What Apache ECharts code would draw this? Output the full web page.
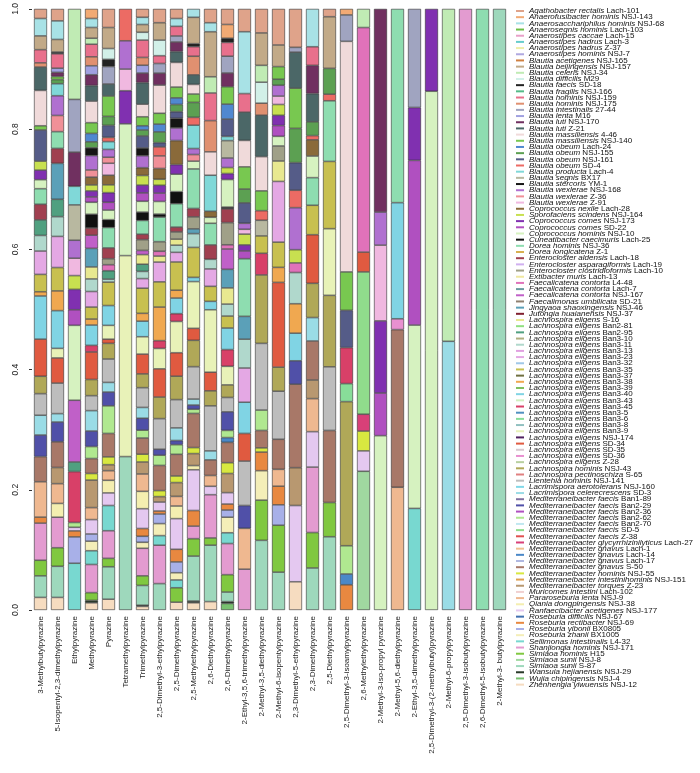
<!DOCTYPE html>
<html>
<head>
<meta charset="utf-8">
<script src="https://cdn.jsdelivr.net/npm/echarts@6/dist/echarts.min.js"></script>
<style>
  html, body { margin: 0; padding: 0; background: #fff; }
  #main { width: 700px; height: 773px; }
</style>
</head>
<body>
<div id="main"></div>
<script>
// pyrazines on the x axis
var pyrazines = [
  '3-Methylbutylpyrazine', '5-Isopentyl-2,3-dimethylpyrazine', 'Ethylpyrazine', 'Methylpyrazine',
  'Pyrazine', 'Tetramethylpyrazine', 'Trimethylpyrazine', '2,5-Dimethyl-3-ethylpyrazine',
  '2,5-Dimethylpyrazine', '2,5-Methylethylpyrazine', '2,6-Diethylpyrazine', '2,6-Dimethylpyrazine',
  '2-Ethyl-3,5,6-trimethylpyrazine', '2-Methyl-3,5-diethylpyrazine', '2-Methyl-6-isopentylpyrazine',
  '2,3-Dimethyl-5-ethylpyrazine', '2,3-Dimethylpyrazine', '2,5-Diethylpyrazine',
  '2,5-Dimethyl-3-isoamylpyrazine', '2,6-Methylethylpyrazine', '2-Methyl-3-iso-propyl pyrazine',
  '2-Methyl-5,6-diethylpyrazine', '2-Ethyl-3,5-dimethylpyrazine', '2,5-Dimethyl-3-(2-methylbutyl)pyrazine',
  '2-Methyl-6-propylpyrazine', '2,5-Dimethyl-3-isobutylpyrazine', '2,6-Dimethyl-5-isobutylpyrazine',
  '2-Methyl-3- butylpyrazine'
];

// species: [italic name, strain]
var species = [
  ['Agathobacter rectalis', 'Lach-101'], ['Anaerofusibacter hominis', 'NSJ-143'],
  ['Anaerosacchariphilus hominis', 'NSJ-68'], ['Anaerosegnis hominis', 'Lach-103'],
  ['Anaerostipes caccae', 'Lach-15'], ['Anaerostipes hadrus', 'Lach-3'], ['Anaerostipes hadrus', 'Z-37'],
  ['Anaerostipes hominis', 'NSJ-7'], ['Blautia acetigenes', 'NSJ-165'], ['Blautia beijingensis', 'NSJ-157'],
  ['Blautia celeris', 'NSJ-34'], ['Blautia difficilis', 'M29'], ['Blautia faecis', 'SD-18'],
  ['Blautia fragilis', 'NSJ-166'], ['Blautia hominis', 'NSJ-159'], ['Blautia hominis', 'NSJ-175'],
  ['Blautia intestinalis', '27-44'], ['Blautia lenta', 'M16'], ['Blautia luti', 'NSJ-170'],
  ['Blautia luti', 'Z-21'], ['Blautia massiliensis', '4-46'], ['Blautia massiliensis', 'NSJ-140'],
  ['Blautia obeum', 'Lach-24'], ['Blautia obeum', 'NSJ-155'], ['Blautia obeum', 'NSJ-161'],
  ['Blautia obeum', 'SD-4'], ['Blautia producta', 'Lach-4'], ['Blautia segnis', 'BX17'],
  ['Blautia stercoris', 'YM-1'], ['Blautia wexlerae', 'NSJ-168'], ['Blautia wexlerae', 'Z-36'],
  ['Blautia wexlerae', 'Z-91'], ['Coprococcus nexile', 'Lach-28'], ['Sporofaciens scindens', 'NSJ-164'],
  ['Coprococcus comes', 'NSJ-173'], ['Coprococcus comes', 'SD-22'], ['Coprococcus hominis', 'NSJ-10'],
  ['Cuneatibacter caecimuris', 'Lach-25'], ['Dorea hominis', 'NSJ-36'], ['Dorea longicatena', 'Z-1'],
  ['Enterocloster aldensis', 'Lach-18'], ['Enterocloster asparagiformis', 'Lach-19'],
  ['Enterocloster clostridioformis', 'Lach-10'], ['Extibacter muris', 'Lach-13'],
  ['Faecalicatena contorta', 'L4-48'], ['Faecalicatena contorta', 'Lach-7'],
  ['Faecalicatena contorta', 'NSJ-167'], ['Faecalimonas umbilicata', 'SD-21'],
  ['Jingyaoa shaoxingensis', 'NSJ-46'], ['Jutongia huaianensis', 'NSJ-37'],
  ['Lachnospira eligens', 'S-16'], ['Lachnospira eligens', 'Ban2-81'], ['Lachnospira eligens', 'Ban2-95'],
  ['Lachnospira eligens', 'Ban3-10'], ['Lachnospira eligens', 'Ban3-11'], ['Lachnospira eligens', 'Ban3-13'],
  ['Lachnospira eligens', 'Ban3-23'], ['Lachnospira eligens', 'Ban3-32'], ['Lachnospira eligens', 'Ban3-35'],
  ['Lachnospira eligens', 'Ban3-37'], ['Lachnospira eligens', 'Ban3-38'], ['Lachnospira eligens', 'Ban3-39'],
  ['Lachnospira eligens', 'Ban3-40'], ['Lachnospira eligens', 'Ban3-43'], ['Lachnospira eligens', 'Ban3-45'],
  ['Lachnospira eligens', 'Ban3-5'], ['Lachnospira eligens', 'Ban3-6'], ['Lachnospira eligens', 'Ban3-8'],
  ['Lachnospira eligens', 'Ban3-9'], ['Lachnospira eligens', 'NSJ-174'], ['Lachnospira eligens', 'SD-34'],
  ['Lachnospira eligens', 'SD-35'], ['Lachnospira eligens', 'SD-36'], ['Lachnospira eligens', 'Z-28'],
  ['Lachnospira hominis', 'NSJ-43'], ['Lachnospira pectinoschiza', 'S-65'], ['Lientehia hominis', 'NSJ-141'],
  ['Lacrimispora aerotolerans', 'NSJ-160'], ['Lacrimispora celerecrescens', 'SD-3'],
  ['Mediterraneibacter faecis', 'Ban1-89'], ['Mediterraneibacter faecis', 'Ban2-29'],
  ['Mediterraneibacter faecis', 'Ban2-36'], ['Mediterraneibacter faecis', 'Ban2-62'],
  ['Mediterraneibacter faecis', 'Ban2-70'], ['Mediterraneibacter faecis', 'SD-5'],
  ['Mediterraneibacter faecis', 'Z-38'], ['Mediterraneibacter glycyrrhizinilyticus', 'Lach-27'],
  ['Mediterraneibacter gnavus', 'Lach-1'], ['Mediterraneibacter gnavus', 'Lach-14'],
  ['Mediterraneibacter gnavus', 'Lach-17'], ['Mediterraneibacter gnavus', 'S-50'],
  ['Mediterraneibacter hominis', 'NSJ-55'], ['Mediterraneibacter intestinihominis', 'NSJ-151'],
  ['Mediterraneibacter torques', 'Z-23'], ['Muricomes intestini', 'Lach-102'],
  ['Pararoseburia lenta', 'NSJ-9'], ['Qiania dongpingensis', 'NSJ-38'],
  ['Ranfaecibacter acetigenes', 'NSJ-177'], ['Roseburia difficilis', 'NSJ-67'],
  ['Roseburia rectibacter', 'NSJ-69'], ['Roseburia yibonii', 'BX0805'], ['Roseburia zhanii', 'BX1005'],
  ['Sellimonas intestinalis', 'L4-32'], ['Shanjiongia hominis', 'NSJ-171'], ['Simiaoa hominis', 'H15'],
  ['Simiaoa sunii', 'NSJ-8'], ['Simiaoa sunii', 'S-87'], ['Wansuia hejianensis', 'NSJ-29'],
  ['Wujia chipingensis', 'NSJ-4'], ['Zhenhengia yiwuensis', 'NSJ-12']
];

var speciesColors = [
  '#DFA38A', '#F2AA74', '#A8E2E6', '#6DBE45', '#E8A0C8', '#66CCCC', '#EEEEA8', '#B0A8E0', '#D08040', '#C2AA88',
  '#C0EBB4', '#D2F0E8', '#222222', '#55BB88', '#E8708C', '#E09070', '#A0A4C0', '#A0A0E0', '#703060', '#4B6767',
  '#F0DADA', '#78C850', '#5088D0', '#5CA052', '#555C88', '#EC6B64', '#80D8D8', '#B8B8A0', '#151515', '#B070D0',
  '#F09098', '#F0B8E0', '#8A6A3A', '#C8E050', '#8030B0', '#B050C0', '#D6F2C0', '#101010', '#8EDDB0', '#D8B050',
  '#A04050', '#D0B0F0', '#A0A088', '#F0E8A0', '#E072BA', '#6A9AA0', '#C060C8', '#908070', '#5BA0B8', '#802030',
  '#E8E890', '#90E080', '#50A080', '#B0B080', '#B0D8CC', '#E0A0E0', '#E4A8E4', '#A0C8E8', '#C8C050', '#707040',
  '#F0A850', '#80C060', '#80D4E4', '#D0F0C0', '#D84068', '#5090C0', '#88DD99', '#90C0C0', '#E8F2B8', '#502060',
  '#E05A40', '#D8C8D0', '#E890D0', '#B8D0A0', '#B0A858', '#E08080', '#BDBDBD', '#80D8E8', '#9ADCE6', '#8070A0',
  '#5050A8', '#B050C0', '#B0E890', '#C0E8F0', '#90DC8C', '#E05050', '#D84078', '#F0C090', '#4A88C8', '#B0B8E0',
  '#A87868', '#D8E840', '#E0A050', '#B89870', '#F0D0D0', '#EFB890', '#F4EEB0', '#E4C8F0', '#4070B0', '#E88840',
  '#A8B0E8', '#F4EEB8', '#78D8D0', '#E39BD0', '#80C840', '#A0D8A0', '#9ED8BC', '#2A3A2A', '#78C070', '#F6DCC0'
];

// [species number, percent of bar], top to bottom
var b01 = [[1,1.6],[3,2.9],[10,2.3],[15,2.2],[16,0.7],[20,3.9],[21,5.9],[22,0.7],[25,5.2],[34,1.5],[35,1.6],[37,1.5],[39,2.6],[41,2.6],[53,2.6],[55,2.6],[57,3.9],[59,2.9],[61,0.7],[63,7.2],[71,6.2],[75,2.9],[77,3.6],[79,3.3],[81,3.6],[91,4.2],[96,5.9],[100,1.0],[104,6.2],[105,2.6],[107,3.6],[110,2.1]];
var b02 = [[1,2.0],[3,3.1],[10,2.1],[13,0.3],[15,2.4],[18,0.7],[19,0.7],[22,0.5],[24,0.7],[27,2.0],[30,3.3],[31,2.7],[39,2.8],[41,2.5],[49,6.0],[53,2.9],[55,3.3],[57,5.2],[59,3.9],[61,3.3],[63,6.3],[69,1.6],[71,4.2],[77,5.1],[79,1.4],[81,3.3],[91,4.3],[94,2.7],[96,3.3],[97,2.3],[104,5.1],[105,3.1],[107,5.2],[110,2.1]];
var b03 = [[11,15.1],[17,8.8],[19,5.7],[27,3.1],[28,5.9],[30,3.0],[32,2.9],[34,2.3],[35,3.4],[36,2.6],[37,12.5],[47,10.3],[53,1.6],[65,8.5],[83,0.8],[98,0.6],[100,1.0],[101,4.4],[103,7.8]];
var b04 = [[2,1.6],[3,1.5],[10,1.8],[11,1.0],[15,2.1],[16,1.5],[18,1.5],[19,1.8],[20,2.6],[21,3.6],[22,1.8],[23,1.4],[24,1.0],[29,1.3],[30,2.4],[31,1.2],[33,1.3],[34,1.0],[35,1.0],[36,0.9],[37,2.0],[38,2.3],[41,1.2],[47,2.2],[49,3.1],[51,2.0],[55,2.1],[57,2.6],[59,2.0],[61,1.0],[63,3.4],[65,1.1],[71,4.6],[75,2.7],[77,2.5],[79,3.4],[81,2.6],[83,2.0],[91,2.5],[92,1.1],[94,4.6],[96,2.0],[98,2.4],[101,1.2],[102,1.6],[103,2.3],[104,4.7],[105,1.3],[108,0.4],[110,1.2]];
var b05 = [[1,3.1],[10,3.5],[12,1.8],[13,1.2],[17,2.9],[20,2.0],[22,3.4],[24,1.5],[25,2.0],[26,0.7],[27,1.3],[30,1.3],[31,1.0],[32,2.0],[33,1.6],[34,1.3],[35,1.6],[36,1.3],[37,1.6],[38,1.3],[39,3.4],[41,1.8],[43,1.0],[45,1.0],[53,1.4],[55,0.5],[59,3.9],[63,3.3],[69,2.3],[71,0.7],[75,2.6],[77,3.9],[79,1.6],[81,2.3],[83,4.6],[91,3.9],[92,1.3],[94,1.0],[96,1.6],[97,2.1],[98,2.1],[103,4.2],[104,4.6],[105,1.4],[107,5.4],[110,1.8]];
var b06 = [[26,5.3],[30,4.7],[32,3.6],[35,5.5],[37,21.9],[69,33.4],[107,25.5]];
var b07 = [[1,1.4],[3,1.2],[10,1.3],[12,1.3],[15,2.9],[16,1.3],[18,1.3],[19,1.6],[20,3.6],[21,2.1],[22,1.5],[23,0.7],[24,1.0],[25,2.0],[29,1.3],[30,2.0],[33,1.3],[34,1.6],[35,1.3],[36,1.4],[37,1.8],[38,1.4],[39,2.3],[41,0.9],[43,1.8],[47,0.7],[51,1.6],[53,1.2],[55,1.2],[57,1.6],[59,4.2],[61,1.3],[63,2.6],[69,2.9],[71,3.3],[75,2.3],[77,3.3],[79,1.8],[81,2.0],[83,1.3],[91,2.7],[92,1.3],[94,2.0],[96,2.9],[97,2.9],[98,3.3],[100,1.3],[101,1.0],[102,1.0],[104,4.6],[105,1.6],[107,3.3],[108,0.2],[110,0.6]];
var b08 = [[1,2.3],[10,2.9],[12,2.6],[15,1.3],[17,1.6],[19,2.0],[21,4.7],[22,1.8],[23,1.3],[24,1.8],[25,0.7],[26,1.5],[31,2.1],[33,1.8],[34,1.0],[35,1.3],[36,1.4],[37,2.1],[38,0.5],[39,4.1],[43,1.6],[45,0.8],[51,1.0],[57,3.3],[59,4.2],[61,5.6],[65,1.3],[69,3.4],[71,4.7],[75,3.6],[77,5.1],[81,1.0],[83,1.7],[91,4.2],[92,1.0],[94,0.9],[98,1.5],[100,0.5],[101,1.6],[102,2.0],[103,1.6],[104,6.4],[107,4.4]];
var b09 = [[1,1.6],[3,1.3],[15,1.6],[17,1.0],[19,1.6],[20,1.8],[21,4.1],[22,1.8],[23,1.1],[24,1.2],[25,1.1],[29,1.6],[30,2.1],[33,4.0],[35,1.6],[37,2.9],[38,2.0],[39,3.9],[41,0.8],[43,1.2],[51,1.0],[55,1.2],[57,1.6],[59,4.7],[61,1.3],[63,2.6],[65,1.3],[69,5.2],[71,3.9],[75,3.9],[77,4.7],[79,2.1],[81,0.7],[83,1.6],[91,3.6],[92,1.1],[94,2.3],[96,1.6],[97,2.1],[98,5.1],[100,2.1],[101,1.8],[102,1.2],[103,1.3],[105,2.4],[110,1.3]];
var b10 = [[3,1.4],[10,4.4],[13,0.5],[15,1.6],[16,3.1],[20,1.6],[21,1.6],[22,1.4],[24,2.5],[26,1.3],[27,3.9],[30,1.0],[31,1.1],[37,1.3],[39,6.6],[41,1.4],[43,2.0],[49,0.8],[55,2.3],[59,5.0],[63,0.7],[69,7.8],[71,2.0],[75,4.4],[77,5.4],[79,1.0],[81,0.7],[83,0.7],[91,5.7],[92,1.0],[94,2.0],[97,0.7],[98,6.8],[100,2.6],[104,2.1],[105,2.9],[107,7.5],[108,0.3],[110,1.2]];
var b11 = [[1,2.3],[3,1.5],[10,7.5],[11,2.7],[15,4.6],[16,5.2],[21,3.9],[27,6.0],[33,1.0],[37,1.0],[39,3.6],[41,2.4],[55,1.6],[57,2.9],[59,2.5],[63,1.4],[69,10.4],[71,3.1],[75,2.5],[77,7.5],[79,1.5],[91,2.6],[96,1.8],[98,1.4],[104,7.2],[105,1.2],[107,9.4],[110,1.4]];
var b12 = [[1,2.6],[2,2.3],[13,0.7],[15,2.3],[17,2.8],[19,2.3],[22,2.9],[23,2.5],[25,2.9],[27,0.7],[28,2.9],[30,1.6],[34,1.0],[35,1.0],[37,4.6],[38,0.3],[41,2.3],[43,3.7],[45,0.7],[47,3.4],[49,3.1],[51,2.7],[55,2.0],[59,2.0],[63,3.6],[65,2.8],[69,3.1],[75,2.1],[77,2.4],[81,3.1],[83,1.2],[89,0.8],[91,3.4],[92,1.8],[94,3.2],[98,1.9],[100,1.0],[101,1.2],[102,2.6],[103,1.8],[104,5.2],[105,2.9],[107,1.6],[108,0.3],[109,1.1]];
var b13 = [[1,3.8],[3,10.3],[15,3.1],[20,4.7],[21,4.4],[22,3.7],[24,2.3],[25,3.4],[30,1.0],[32,0.8],[34,1.8],[35,1.0],[36,1.3],[39,9.6],[49,3.8],[55,4.8],[57,5.7],[63,5.2],[71,4.6],[77,7.4],[81,3.8],[96,6.8],[104,6.8]];
var b14 = [[1,4.0],[10,5.4],[11,2.8],[12,3.5],[16,2.0],[20,6.9],[21,5.7],[22,3.3],[26,1.6],[28,2.6],[59,2.9],[65,3.6],[75,11.4],[77,11.1],[83,3.4],[91,2.9],[92,0.7],[100,3.1],[102,4.9],[105,6.7],[107,11.6]];
var b15 = [[1,6.0],[10,3.6],[22,2.1],[24,1.0],[30,1.8],[32,1.4],[34,1.8],[35,1.7],[36,1.8],[37,1.6],[43,2.5],[51,3.4],[57,10.1],[59,4.2],[61,2.5],[71,14.1],[75,4.0],[77,8.0],[91,5.0],[96,2.8],[100,3.1],[101,3.4],[105,7.8],[107,6.3]];
var b16 = [[1,6.4],[17,0.8],[20,6.0],[22,6.7],[24,5.7],[25,4.6],[26,2.9],[30,7.0],[34,2.2],[45,1.6],[55,5.2],[61,4.9],[63,4.6],[81,3.9],[91,13.9],[94,6.3],[98,12.7],[110,4.7]];
var b17 = [[3,6.3],[15,3.1],[19,4.7],[20,4.7],[24,2.3],[26,0.7],[33,2.7],[37,3.6],[39,4.6],[59,4.9],[71,8.1],[75,5.7],[79,3.9],[91,6.5],[94,3.1],[96,5.5],[98,5.9],[104,10.9],[105,5.9],[107,7.0]];
var b18 = [[1,1.3],[10,8.6],[24,4.3],[26,1.1],[39,10.1],[59,11.2],[69,11.1],[75,11.9],[77,10.6],[91,12.0],[105,5.7],[107,12.2]];
var b19 = [[2,1.0],[17,4.4],[21,38.4],[22,6.4],[25,6.2],[65,6.0],[67,3.0],[75,24.0],[83,4.7],[89,1.8],[100,4.2]];
var b20 = [[11,3.1],[45,37.4],[71,3.3],[85,23.7],[87,2.8],[92,3.3],[98,3.4],[106,23.1]];
var b21 = [[19,33.8],[30,5.5],[32,12.6],[35,12.0],[36,7.1],[37,29.0]];
var b22 = [[39,32.2],[63,19.3],[73,1.8],[91,26.2],[96,20.4]];
var b23 = [[17,16.4],[35,8.8],[36,27.4],[37,30.5],[103,16.9]];
var b24 = [[35,13.7],[37,86.3]];
var b25 = [[11,55.3],[79,44.7]];
var b26 = [[104,100]];
var b27 = [[39,100]];
var b28 = [[107,100]];

var bars = [b01, b02, b03, b04, b05, b06, b07, b08, b09, b10, b11, b12, b13, b14,
            b15, b16, b17, b18, b19, b20, b21, b22, b23, b24, b25, b26, b27, b28];

var fullName = function (s) { return s[0] + ' ' + s[1]; };
var nameParts = {};
species.forEach(function (s) { nameParts[fullName(s)] = s; });

// position = "fill": each bar scaled to 1
var totals = bars.map(function (b) {
    return b.reduce(function (acc, p) { return acc + p[1]; }, 0);
});

var series = [];
// last species first, so it sits at the bottom of the stack
for (var k = species.length; k >= 1; k--) {
    var data = bars.map(function (b, i) {
        var hit = b.find(function (p) { return p[0] === k; });
        return hit ? hit[1] / totals[i] : '-';
    });
    series.push({
        name: fullName(species[k - 1]),
        type: 'bar',
        stack: 'all',
        barWidth: 13,
        data: data,
        itemStyle: {
            color: speciesColors[k - 1],
            borderColor: '#333',
            borderWidth: 0.6
        }
    });
}

var chart = echarts.init(document.getElementById('main'));
chart.setOption({
    animation: false,
    backgroundColor: '#fff',
    grid: { left: 32, right: 192, top: 8, bottom: 163 },
    legend: {
        orient: 'vertical',
        left: 511,
        top: 2,
        itemGap: -1.82,
        itemWidth: 8,
        itemHeight: 2,
        itemTextGap: 4,
        icon: 'rect',
        selectedMode: false,
        itemStyle: { borderWidth: 0 },
        data: species.map(fullName),
        formatter: function (name) {
            var p = nameParts[name];
            return '{i|' + p[0] + '} ' + p[1];
        },
        textStyle: {
            fontFamily: 'Liberation Sans',
            fontSize: 8,
            color: '#111',
            rich: {
                i: { fontFamily: 'Liberation Sans', fontSize: 8, fontStyle: 'italic', color: '#111' }
            }
        }
    },
    xAxis: {
        type: 'category',
        data: pyrazines,
        axisLine: { show: false },
        axisTick: { show: false },
        axisLabel: {
            interval: 0,
            rotate: 90,
            margin: 6,
            fontFamily: 'Liberation Sans',
            fontSize: 8,
            color: '#222'
        }
    },
    yAxis: {
        type: 'value',
        min: 0,
        max: 1,
        interval: 0.2,
        splitLine: { show: false },
        axisLine: { show: false },
        axisTick: { show: true, length: 3, lineStyle: { color: '#333' } },
        axisLabel: {
            rotate: 90,
            margin: 12,
            fontFamily: 'Liberation Sans',
            fontSize: 8.5,
            color: '#222',
            formatter: function (v) { return v.toFixed(1); }
        }
    },
    series: series
});
</script>
</body>
</html>
